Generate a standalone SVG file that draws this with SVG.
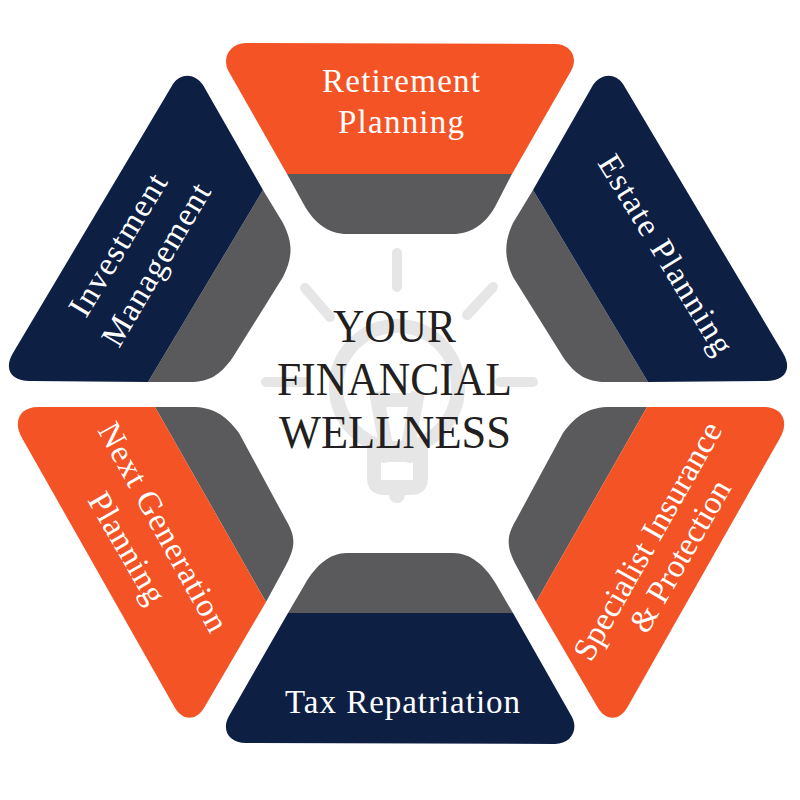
<svg xmlns="http://www.w3.org/2000/svg" width="800" height="800" viewBox="0 0 800 800">
<style>
.o{fill:#f35325}.n{fill:#0e1f44}.g{fill:#5a5a5c}
.l{font-family:"Liberation Serif","Times New Roman",serif;font-size:33px;fill:#fff}
.c{font-family:"Liberation Serif","Times New Roman",serif;font-size:46px;fill:#231f20}
.b{fill:none;stroke:#e6e6e6;stroke-width:10;stroke-linecap:round}
.f{fill:none;stroke:#e6e6e6;stroke-width:14}
</style>
<rect width="800" height="800" fill="#fff"/>
<g id="bulb">
<path class="b" d="M397 253V287M305 288L330 317M493 287L467 315M266 382H305M500 382H533"/>
<circle class="f" cx="397" cy="387" r="61"/>
<path class="f" d="M376 392L389 462M418 392L405 462M376 400H418" stroke-linejoin="round"/>
<path fill="#e6e6e6" fill-rule="evenodd" d="M367 445H428V478Q428 495 410 495H405Q404 503 397 503Q390 503 389 495H385Q367 495 367 478ZM381 462V480H413V462Z"/>
</g>
<g id="retirement-planning">
<path class="g" d="M287 174L303 203C315 225 330 234 347 234H453C470 234 486 225 497 203L512 174Z"/>
<path class="o" d="M287 174L229 72C221 58 230 43 246 43L555 44C570 44 579 57 571 71L512 174Z"/>
<text class="l" x="322" y="92" textLength="158">Retirement</text>
<text class="l" x="338" y="133" textLength="126">Planning</text>
</g>
<g id="tax-repatriation">
<path class="g" d="M288 613L305 584C316 565 330 553 347 553H453C470 553 485 565 496 584L513 613Z"/>
<path class="n" d="M288 613L229 716C221 730 229 743 246 743L555 744C570 744 579 731 572 717L513 613Z"/>
<text class="l" x="285" y="713" textLength="235">Tax Repatriation</text>
</g>
<g id="investment-management">
<path class="g" d="M263 190L283 223C293 243 293 257 283 277L233 357C220 376 208 382 190 382H148Z"/>
<path class="n" d="M263 190L203 85C194 73 181 73 173 84L13 353C3 370 12 381 30 381L148 382Z"/>
<text class="l" transform="translate(86 319) rotate(-59)" textLength="160">Investment</text>
<text class="l" transform="translate(119 349) rotate(-59.5)" textLength="183">Management</text>
</g>
<g id="estate-planning">
<path class="g" d="M533 190L513 223C504 243 504 257 513 277L563 357C576 376 588 382 606 382H648Z"/>
<path class="n" d="M533 190L593 85C602 73 615 73 623 84L783 353C793 370 784 381 766 381L648 382Z"/>
<text class="l" transform="translate(597 163) rotate(58.5)" textLength="228">Estate Planning</text>
</g>
<g id="specialist-insurance">
<path class="g" d="M536 602L517 567C506 547 506 537 516 520L563 433C577 414 590 407 610 407H647Z"/>
<path class="o" d="M536 602L598 708C606 721 619 721 627 708L780 438C790 420 781 407 764 407L647 407Z"/>
<text class="l" transform="translate(591 663) rotate(-60.5)" textLength="268">Specialist Insurance</text>
<text class="l" transform="translate(647 635) rotate(-60)" textLength="170">&amp; Protection</text>
</g>
<g id="next-generation">
<path class="g" d="M266 602L285 567C296 547 296 537 286 520L239 433C225 414 212 407 192 407H155Z"/>
<path class="o" d="M266 602L204 708C196 721 183 721 175 708L22 438C12 420 21 407 38 407L155 407Z"/>
<text class="l" transform="translate(97 430) rotate(61)" textLength="234">Next Generation</text>
<text class="l" transform="translate(87 500) rotate(60)" textLength="123">Planning</text>
</g>
<g id="center">
<text class="c" x="333" y="342" textLength="123" lengthAdjust="spacingAndGlyphs">YOUR</text>
<text class="c" x="277" y="395" textLength="235" lengthAdjust="spacingAndGlyphs">FINANCIAL</text>
<text class="c" x="279" y="448" textLength="232" lengthAdjust="spacingAndGlyphs">WELLNESS</text>
</g>
</svg>
